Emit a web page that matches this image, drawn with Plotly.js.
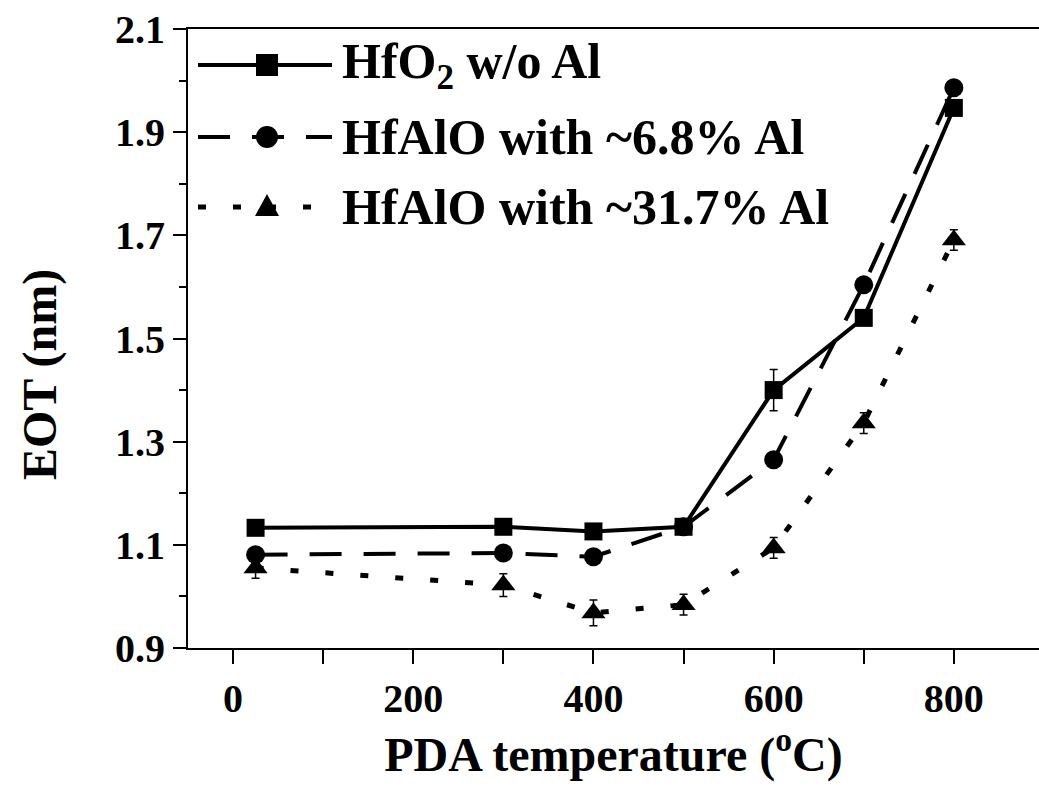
<!DOCTYPE html>
<html>
<head>
<meta charset="utf-8">
<script src="https://cdn.plot.ly/plotly-3.0.1.min.js"></script>
<style>html,body{margin:0;padding:0;background:#fff;}#chart{width:1039px;height:787px;}</style>
</head>
<body>
<div id="chart"></div>
<script>
// PDA temperature (°C)
const pdaTemp = [25, 300, 400, 500, 600, 700, 800];
// EOT (nm)
const eotHfO2 = [1.133, 1.135, 1.126, 1.135, 1.400, 1.540, 1.947];
const eotAl68 = [1.081, 1.084, 1.077, 1.135, 1.265, 1.604, 1.986];
const eotAl317 = [1.055, 1.022, 0.968, 0.984, 1.094, 1.336, 1.691];
// error bars
const errHfO2 = [0.01, 0.01, 0.01, 0.01, 0.04, 0.012, 0.01];
const errAl68 = [0.01, 0.01, 0.01, 0.01, 0.01, 0.01, 0.01];
const errAl317 = [0.02, 0.022, 0.025, 0.02, 0.02, 0.02, 0.02];
const seriesNames = ['HfO<sub>2</sub> w/o Al', 'HfAlO with ~6.8% Al', 'HfAlO with ~31.7% Al'];
const xTickVals = [0, 200, 400, 600, 800];
const yTickVals = [0.9, 1.1, 1.3, 1.5, 1.7, 1.9, 2.1];

const FONT = '"Liberation Serif", "Times New Roman", Times, "DejaVu Serif", serif';
const W = 1039, H = 787;
const ml = 188, mr = 0, mt = 29, mb = 139;
const pw = W - ml - mr, ph = H - mt - mb;
const px2x = p => (p - ml) / pw;
const py2y = p => (H - mb - p) / ph;

function errObj(arr) {
  return {type: 'data', array: arr, visible: true, color: '#000', thickness: 1.5, width: 4};
}

const styles = [
  {dash: 'solid', symbol: 'square', size: 18},
  {dash: '32px,22px', symbol: 'circle', size: 19},
  {dash: '8px,27px', symbol: 'triangle-up', size: 21}
];
const ys = [eotHfO2, eotAl68, eotAl317];
const errs = [errHfO2, errAl68, errAl317];

const traces = ys.map((y, i) => ({
  type: 'scatter', mode: 'lines+markers', x: pdaTemp, y: y, name: seriesNames[i],
  line: {color: '#000', width: i === 2 ? 5 : 4, dash: styles[i].dash},
  marker: {color: '#000', symbol: styles[i].symbol, size: styles[i].size},
  error_y: errObj(errs[i]),
  showlegend: false
}));

// custom legend (long line samples like the original)
const legRows = [65, 137, 207];
const shapes = [];
const annotations = [];
legRows.forEach((ry, i) => {
  const yp = py2y(ry);
  shapes.push({type: 'line', xref: 'paper', yref: 'paper', x0: px2x(198), x1: px2x(332), y0: yp, y1: yp,
    line: {color: '#000', width: i === 2 ? 5 : 4, dash: styles[i].dash}});
  const xa = px2x(267);
  const base = {xref: 'paper', yref: 'paper', xsizemode: 'pixel', ysizemode: 'pixel', xanchor: xa, yanchor: yp,
    fillcolor: '#000', line: {color: '#000', width: 0}};
  if (i === 0) shapes.push(Object.assign({type: 'rect', x0: -11, x1: 11, y0: -11, y1: 11}, base));
  if (i === 1) shapes.push(Object.assign({type: 'circle', x0: -11, x1: 11, y0: -11, y1: 11}, base));
  if (i === 2) shapes.push(Object.assign({type: 'path', path: 'M-12,-9 L12,-9 L0,13 Z'}, base));
  annotations.push({xref: 'paper', yref: 'paper', x: px2x(340), y: yp, xanchor: 'left', yanchor: 'middle',
    text: '<b>' + seriesNames[i] + '</b>', showarrow: false, font: {family: FONT, size: 50, color: '#000'}});
});
// y-axis title
annotations.push({xref: 'paper', yref: 'paper', x: px2x(40), y: py2y(375), xanchor: 'center', yanchor: 'middle',
  text: '<b>EOT (nm)</b>', textangle: -90, showarrow: false, font: {family: FONT, size: 48, color: '#000'}});

const layout = {
  width: W, height: H,
  margin: {l: ml, r: mr, t: mt, b: mb, pad: 0},
  paper_bgcolor: '#fff', plot_bgcolor: '#fff',
  font: {family: FONT, color: '#000'},
  showlegend: false,
  xaxis: {
    range: [-50, 894.5], showgrid: false, zeroline: false,
    showline: true, linecolor: '#000', linewidth: 2, mirror: true,
    ticks: 'outside', ticklen: 14, tickwidth: 2, tickcolor: '#000',
    tickvals: xTickVals, ticktext: xTickVals.map(String),
    minor: {dtick: 100, tick0: 0, ticks: 'outside', ticklen: 14, tickwidth: 2, tickcolor: '#000', showgrid: false},
    tickfont: {family: FONT, size: 40, color: '#000', weight: 'bold'},
    title: {text: '<b>PDA temperature (<sup>o</sup>C)</b>', font: {family: FONT, size: 48, color: '#000'}, standoff: 16}
  },
  yaxis: {
    range: [0.9, 2.1], showgrid: false, zeroline: false,
    showline: true, linecolor: '#000', linewidth: 2, mirror: false,
    ticks: 'outside', ticklen: 13, tickwidth: 2, tickcolor: '#000',
    tickvals: yTickVals, ticktext: yTickVals.map(v => v.toFixed(1)),
    minor: {dtick: 0.1, tick0: 0.9, ticks: 'outside', ticklen: 7, tickwidth: 2, tickcolor: '#000', showgrid: false},
    tickfont: {family: FONT, size: 40, color: '#000', weight: 'bold'}
  },
  shapes: shapes,
  annotations: annotations
};

Plotly.newPlot('chart', traces, layout, {displayModeBar: false, staticPlot: true});
</script>
</body>
</html>
